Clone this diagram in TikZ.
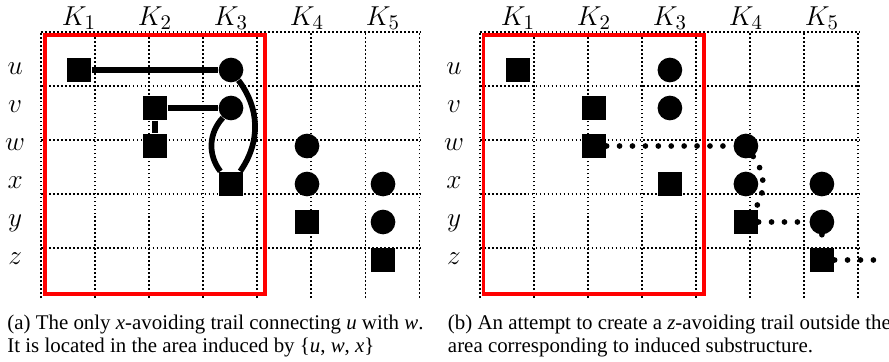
\documentclass[tikz,border=0pt]{standalone}
\usepackage{fontspec}
\newfontfamily\capfont{Liberation Serif}

\tikzset{
  gridline/.style={line width=0.9pt,dash pattern=on 0.9pt off 1.2pt},
  areabox/.style={draw=red,line width=1.8pt},
  sq/.style={fill=black,minimum size=13pt,inner sep=0pt},
  disc/.style={circle,fill=black,minimum size=13pt,inner sep=0pt},
  trail/.style={line width=3pt},
  dottrail/.style={line width=3pt,line cap=round,dash pattern=on 0pt off 6.8pt},
  klabel/.style={anchor=base,font=\fontsize{15}{17}\selectfont},
  rowlabel/.style={anchor=base,font=\fontsize{15}{17}\selectfont},
  caption/.style={anchor=base west,inner sep=0pt,font=\capfont\fontsize{11}{13}\selectfont}
}

% grid, labels, area and players of one panel; #1 is the name prefix
\newcommand\gridpanel[1]{%
  \draw[gridline] (0,0) grid (10,-7);
  \draw[areabox] (0.1,-0.08) rectangle (5.9,-6.9);
  \foreach \k in {1,...,5}
    \node[klabel] (#1k\k) at (2*\k-1,0.18) {$K_\k$};
  \foreach \r/\lbl in {1/u,2/v,3/w,4/x,5/y,6/z}
    \node[rowlabel] (#1\lbl) at (-0.68,-\r-0.13) {$\lbl$};
  \node[sq]   (#1u1) at (1,-1) {};
  \node[disc] (#1u3) at (5,-1) {};
  \node[sq]   (#1v2) at (3,-2) {};
  \node[disc] (#1v3) at (5,-2) {};
  \node[sq]   (#1w2) at (3,-3) {};
  \node[disc] (#1w4) at (7,-3) {};
  \node[sq]   (#1x3) at (5,-4) {};
  \node[disc] (#1x4) at (7,-4) {};
  \node[disc] (#1x5) at (9,-4) {};
  \node[sq]   (#1y4) at (7,-5) {};
  \node[disc] (#1y5) at (9,-5) {};
  \node[sq]   (#1z5) at (9,-6) {};
}

\begin{document}
\begin{tikzpicture}[x=20pt,y=20pt]
\useasboundingbox (-1.079,0.842) rectangle (22.316,-8.684);

% (a) the x-avoiding trail
\gridpanel{a}
\draw[trail] (au1) -- (au3);
\draw[trail] (av2) -- (av3);
\draw[trail] (av2) -- (aw2);
\draw[trail] (au3) to[bend left=36] (ax3);
\draw[trail] (av3) to[bend right=40] (ax3);

% (b) the z-avoiding attempt
\begin{scope}[xshift=231pt]
\gridpanel{b}
\coordinate (bexit) at (10.5,-6);
\draw[dottrail] (bw2) -- (bw4);
\draw[dottrail] (bw4) to[bend left=35] (by4);
\draw[dottrail] (by4) -- (by5);
\draw[dottrail] (by5) -- (bz5);
\draw[dottrail] (bz5) -- (bexit);
\end{scope}

\node[caption] (capa1) at (-0.895,-7.82) {(a) The only \textit{x}-avoiding trail connecting \textit{u} with \textit{w}.};
\node[caption] (capa2) at (-0.895,-8.447) {It is located in the area induced by \{\textit{u}, \textit{w}, \textit{x}\}};
\node[caption] (capb1) at (10.7,-7.82) {(b) An attempt to create a \textit{z}-avoiding trail outside the};
\node[caption] (capb2) at (10.7,-8.447) {area corresponding to induced substructure.};
\end{tikzpicture}
\end{document}
